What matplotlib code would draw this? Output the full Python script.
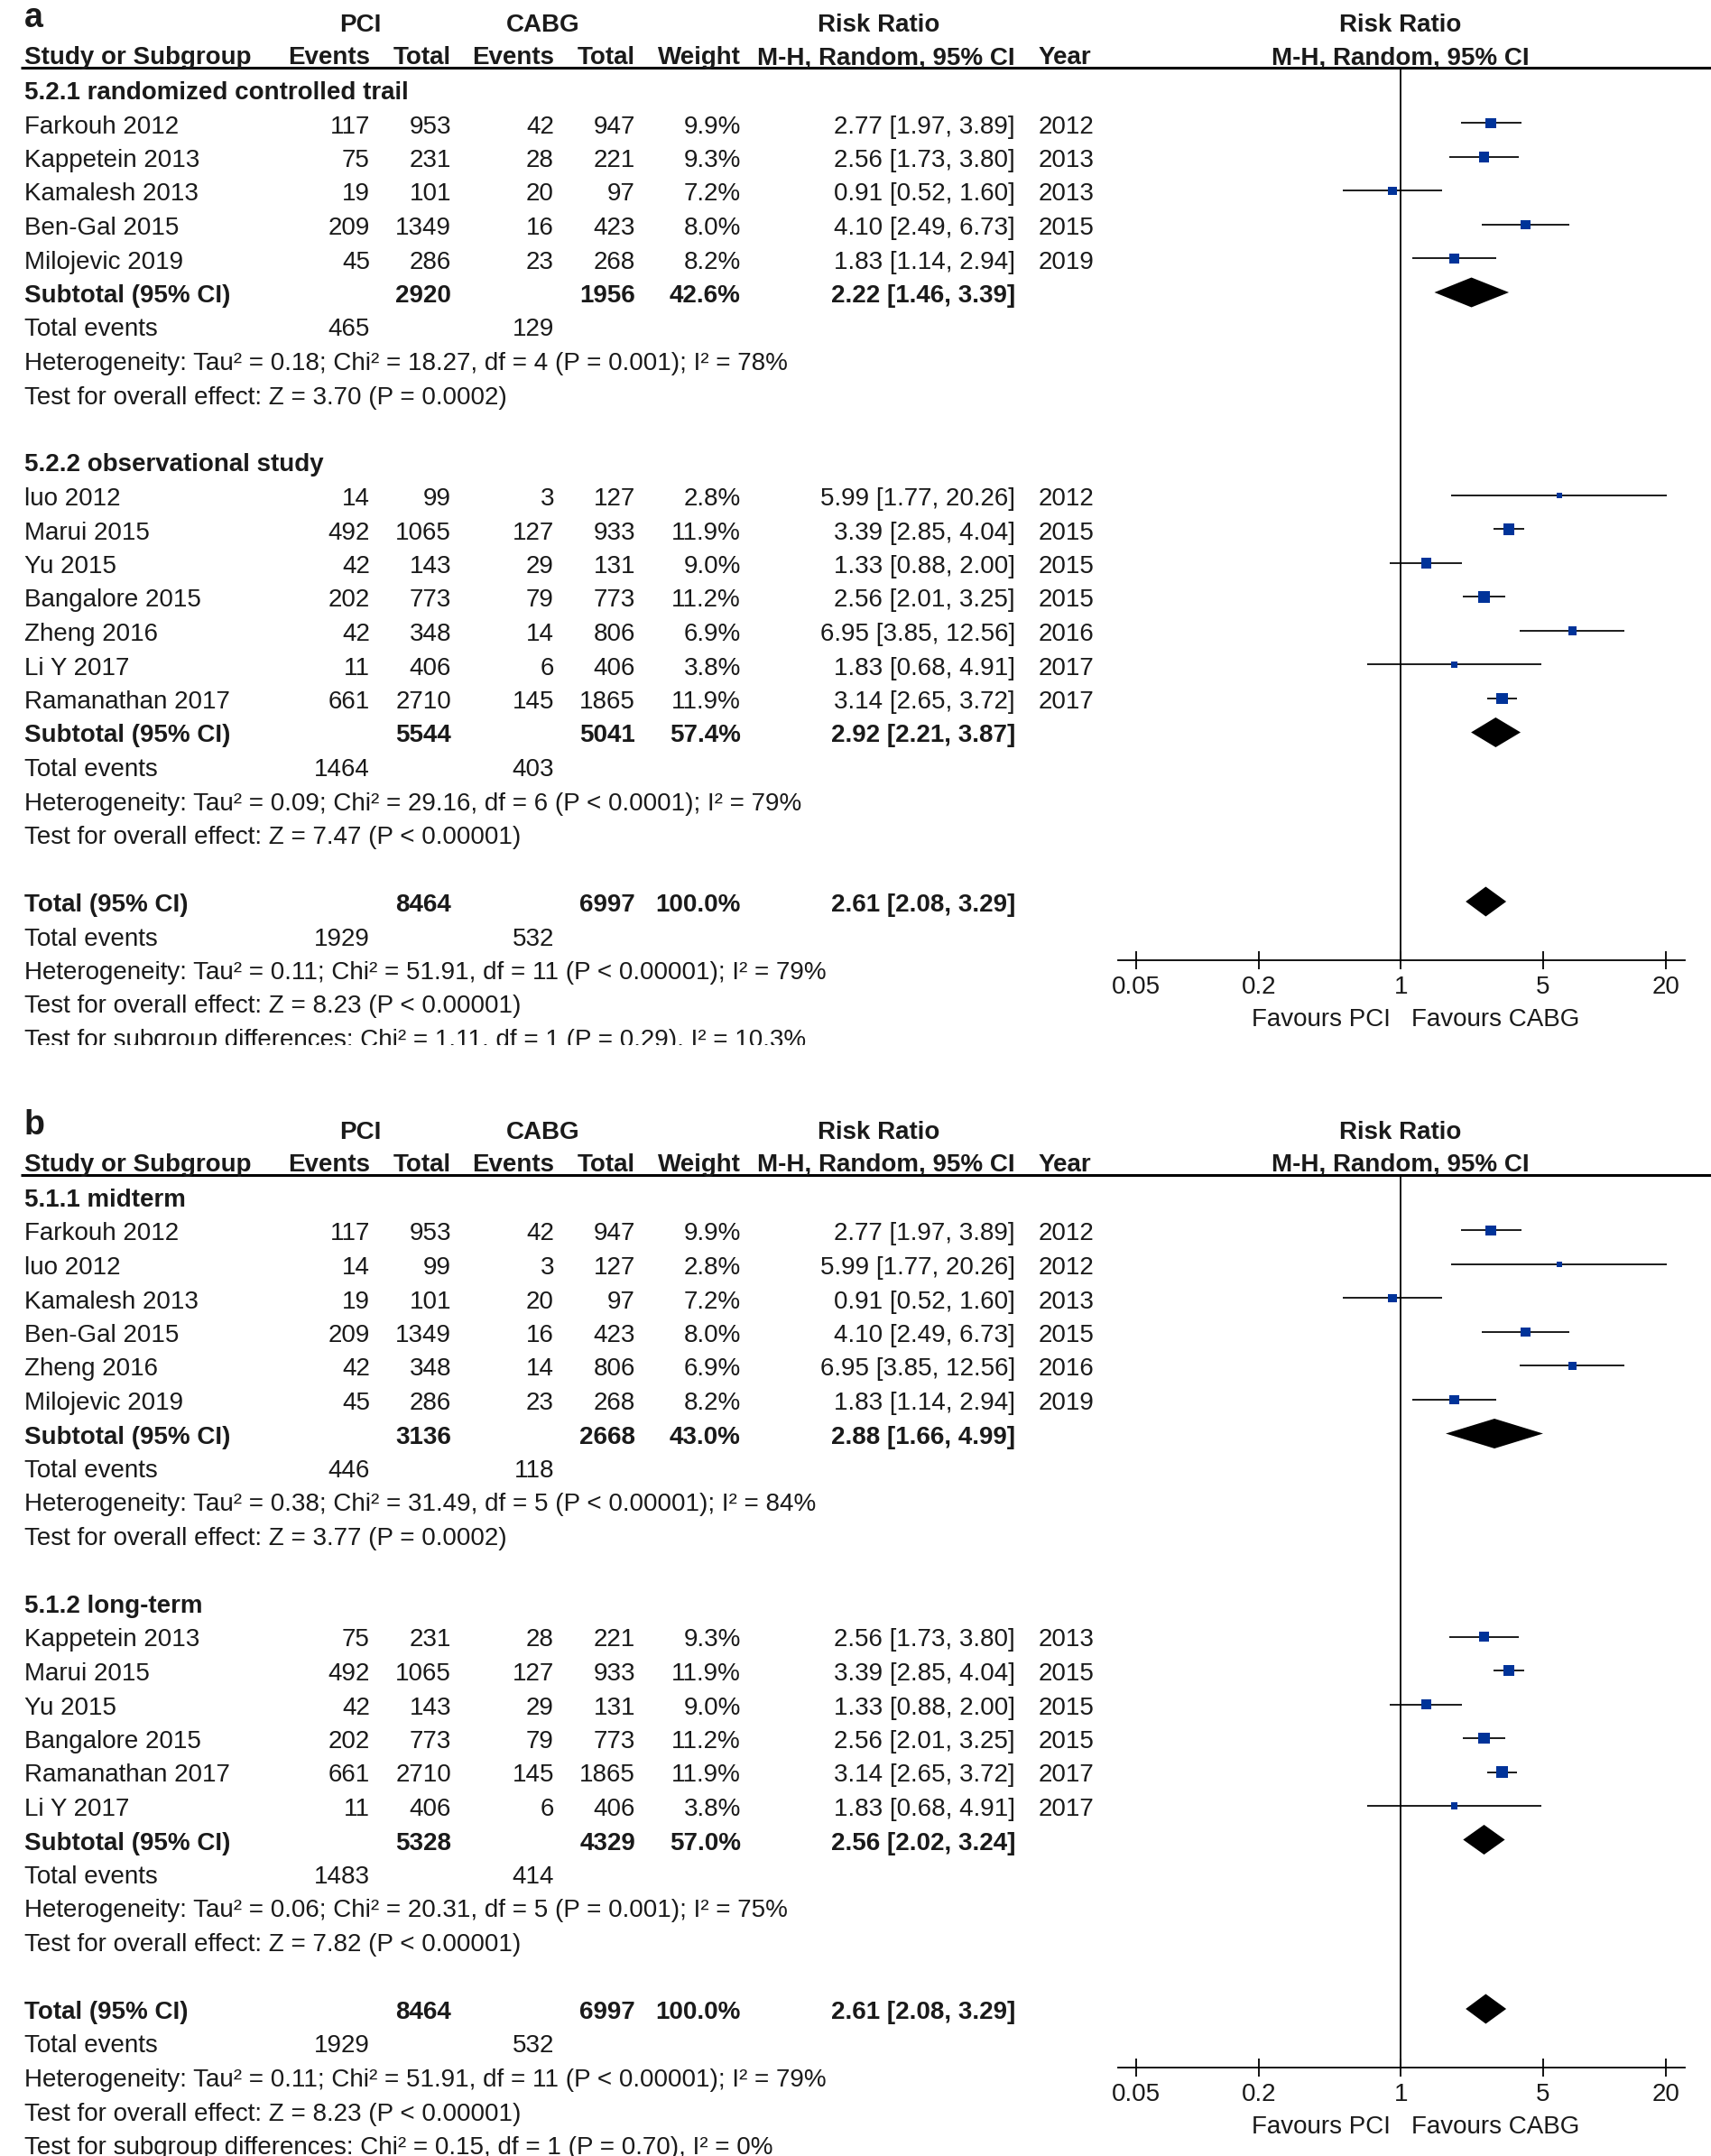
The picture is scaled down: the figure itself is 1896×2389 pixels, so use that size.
import numpy as np
import matplotlib
matplotlib.use("Agg")
import matplotlib.pyplot as plt
from matplotlib import font_manager as fm
from matplotlib.ticker import NullLocator
from matplotlib.patches import Rectangle

names = {f.name for f in fm.fontManager.ttflist}
FONT = "Liberation Sans Narrow" if "Liberation Sans Narrow" in names else "Liberation Sans"
plt.rcParams["font.family"] = [FONT, "DejaVu Sans"]

INK, BLUE = "#1a1a1a", "#003399"
W, H = 1896, 2389
FS = 20

# ── study data ────────────────────────────────────────────────────────────────
studies     = ["Farkouh 2012", "Kappetein 2013", "Kamalesh 2013", "Ben-Gal 2015",
               "Milojevic 2019", "luo 2012", "Marui 2015", "Yu 2015", "Bangalore 2015",
               "Zheng 2016", "Li Y 2017", "Ramanathan 2017"]
pci_events  = [117, 75, 19, 209, 45, 14, 492, 42, 202, 42, 11, 661]
pci_total   = [953, 231, 101, 1349, 286, 99, 1065, 143, 773, 348, 406, 2710]
cabg_events = [42, 28, 20, 16, 23, 3, 127, 29, 79, 14, 6, 145]
cabg_total  = [947, 221, 97, 423, 268, 127, 933, 131, 773, 806, 406, 1865]
weights     = [9.9, 9.3, 7.2, 8.0, 8.2, 2.8, 11.9, 9.0, 11.2, 6.9, 3.8, 11.9]
rr          = [2.77, 2.56, 0.91, 4.10, 1.83, 5.99, 3.39, 1.33, 2.56, 6.95, 1.83, 3.14]
rr_lo       = [1.97, 1.73, 0.52, 2.49, 1.14, 1.77, 2.85, 0.88, 2.01, 3.85, 0.68, 2.65]
rr_hi       = [3.89, 3.80, 1.60, 6.73, 2.94, 20.26, 4.04, 2.00, 3.25, 12.56, 4.91, 3.72]
years       = [2012, 2013, 2013, 2015, 2019, 2012, 2015, 2015, 2015, 2016, 2017, 2017]

# ── panel a: by study design ──────────────────────────────────────────────────
a_groups      = ["5.2.1 randomized controlled trail", "5.2.2 observational study"]
a_members     = [[0, 1, 2, 3, 4], [5, 6, 7, 8, 9, 10, 11]]
a_sub_n_pci   = [2920, 5544]
a_sub_n_cabg  = [1956, 5041]
a_sub_w       = [42.6, 57.4]
a_sub_rr      = [2.22, 2.92]
a_sub_lo      = [1.46, 2.21]
a_sub_hi      = [3.39, 3.87]
a_sub_ev_pci  = [465, 1464]
a_sub_ev_cabg = [129, 403]
a_het = ["Heterogeneity: Tau² = 0.18; Chi² = 18.27, df = 4 (P = 0.001); I² = 78%",
         "Heterogeneity: Tau² = 0.09; Chi² = 29.16, df = 6 (P < 0.0001); I² = 79%"]
a_z   = ["Test for overall effect: Z = 3.70 (P = 0.0002)",
         "Test for overall effect: Z = 7.47 (P < 0.00001)"]
a_subgroup = "Test for subgroup differences: Chi² = 1.11, df = 1 (P = 0.29), I² = 10.3%"

# ── panel b: by follow-up ─────────────────────────────────────────────────────
b_groups      = ["5.1.1 midterm", "5.1.2 long-term"]
b_members     = [[0, 5, 2, 3, 9, 4], [1, 6, 7, 8, 11, 10]]
b_sub_n_pci   = [3136, 5328]
b_sub_n_cabg  = [2668, 4329]
b_sub_w       = [43.0, 57.0]
b_sub_rr      = [2.88, 2.56]
b_sub_lo      = [1.66, 2.02]
b_sub_hi      = [4.99, 3.24]
b_sub_ev_pci  = [446, 1483]
b_sub_ev_cabg = [118, 414]
b_het = ["Heterogeneity: Tau² = 0.38; Chi² = 31.49, df = 5 (P < 0.00001); I² = 84%",
         "Heterogeneity: Tau² = 0.06; Chi² = 20.31, df = 5 (P = 0.001); I² = 75%"]
b_z   = ["Test for overall effect: Z = 3.77 (P = 0.0002)",
         "Test for overall effect: Z = 7.82 (P < 0.00001)"]
b_subgroup = "Test for subgroup differences: Chi² = 0.15, df = 1 (P = 0.70), I² = 0%"

# ── overall ───────────────────────────────────────────────────────────────────
tot_n_pci, tot_n_cabg = 8464, 6997
tot_rr, tot_lo, tot_hi = 2.61, 2.08, 3.29
tot_ev_pci, tot_ev_cabg = 1929, 532
tot_het = "Heterogeneity: Tau² = 0.11; Chi² = 51.91, df = 11 (P < 0.00001); I² = 79%"
tot_z   = "Test for overall effect: Z = 8.23 (P < 0.00001)"

ticks = [0.05, 0.2, 1, 5, 20]
tick_labels = ["0.05", "0.2", "1", "5", "20"]

# ── layout (figure pixels) ────────────────────────────────────────────────────
ROW0, ROWH, DY = 99, 37.5, 4
LINE_Y, AXIS_Y = 75, 1064
X_LABEL, X_EVP, X_TOTP, X_EVC, X_TOTC, X_W, X_RR, X_YR = 27, 410, 500, 614, 704, 821, 1125, 1151
F_LEFT, F_RIGHT = 1239, 1867
XLIM = (0.0408, 24.8)
DIAM = 0.44

fig = plt.figure(figsize=(W / 100, H / 100), dpi=100, facecolor="white")
tx = fig.add_axes([0, 0, 1, 1])
tx.set_xlim(0, W)
tx.set_ylim(H, 0)
tx.axis("off")


def put(x, y, s, ha="left", bold=False, size=FS):
    tx.text(x, y + DY, s, ha=ha, va="center", fontsize=size, color=INK,
            fontweight="bold" if bold else "normal")


def rr_txt(v, lo, hi):
    return f"{v:.2f} [{lo:.2f}, {hi:.2f}]"


def diamond(ax, r, v, lo, hi):
    ax.fill([lo, v, hi, v], [r, r - DIAM, r, r + DIAM], color="black", lw=0)


def draw_panel(letter, yoff, groups, members, sub_n_pci, sub_n_cabg, sub_w, sub_rr,
               sub_lo, sub_hi, sub_ev_pci, sub_ev_cabg, het, zt, subgroup):
    Y = lambda r: yoff + ROW0 + r * ROWH

    # header
    put(X_LABEL, yoff + 16, letter, bold=True, size=27)
    h1, h2 = yoff + 24, yoff + 60
    put(399, h1, "PCI", ha="center", bold=True)
    put(602, h1, "CABG", ha="center", bold=True)
    put(974, h1, "Risk Ratio", ha="center", bold=True)
    put(1552, h1, "Risk Ratio", ha="center", bold=True)
    put(X_LABEL, h2, "Study or Subgroup", bold=True)
    put(X_EVP, h2, "Events", ha="right", bold=True)
    put(X_TOTP, h2, "Total", ha="right", bold=True)
    put(X_EVC, h2, "Events", ha="right", bold=True)
    put(X_TOTC, h2, "Total", ha="right", bold=True)
    put(X_W, h2, "Weight", ha="right", bold=True)
    put(X_RR, h2, "M-H, Random, 95% CI", ha="right", bold=True)
    put(X_YR, h2, "Year", bold=True)
    put(1552, h2, "M-H, Random, 95% CI", ha="center", bold=True)
    tx.plot([23, W], [yoff + LINE_Y, yoff + LINE_Y], color="black", lw=2.2,
            solid_capstyle="butt")

    # forest axes
    ax = fig.add_axes([F_LEFT / W, 1 - (yoff + AXIS_Y) / H,
                       (F_RIGHT - F_LEFT) / W, (AXIS_Y - LINE_Y) / H])
    ax.set_xscale("log")
    ax.set_xlim(*XLIM)
    ax.set_ylim((AXIS_Y - ROW0) / ROWH, (LINE_Y - ROW0) / ROWH)
    ax.patch.set_alpha(0)
    for s in ["top", "left", "right"]:
        ax.spines[s].set_visible(False)
    ax.spines["bottom"].set_linewidth(1.3)
    ax.set_yticks([])
    ax.set_xticks(ticks)
    ax.set_xticklabels(tick_labels, fontsize=FS, color=INK)
    ax.xaxis.set_minor_locator(NullLocator())
    ax.tick_params(axis="x", direction="inout", length=14, width=1.3, pad=5)
    ax.axvline(1, color="black", lw=1.3)

    r = 0
    for g in range(len(groups)):
        put(X_LABEL, Y(r), groups[g], bold=True)
        r += 1
        idx = members[g]
        rows = np.arange(r, r + len(idx))
        for k, i in zip(rows, idx):
            y = Y(k)
            put(X_LABEL, y, studies[i])
            put(X_EVP, y, str(pci_events[i]), ha="right")
            put(X_TOTP, y, str(pci_total[i]), ha="right")
            put(X_EVC, y, str(cabg_events[i]), ha="right")
            put(X_TOTC, y, str(cabg_total[i]), ha="right")
            put(X_W, y, f"{weights[i]:.1f}%", ha="right")
            put(X_RR, y, rr_txt(rr[i], rr_lo[i], rr_hi[i]), ha="right")
            put(X_YR, y, str(years[i]))
        ax.hlines(rows, [rr_lo[i] for i in idx], [rr_hi[i] for i in idx],
                  color="black", lw=1.25)
        ax.scatter([rr[i] for i in idx], rows, marker="s", color=BLUE,
                   s=[7.0 * weights[i] for i in idx], zorder=3, linewidths=0)
        r += len(idx)
        y = Y(r)
        put(X_LABEL, y, "Subtotal (95% CI)", bold=True)
        put(X_TOTP, y, str(sub_n_pci[g]), ha="right", bold=True)
        put(X_TOTC, y, str(sub_n_cabg[g]), ha="right", bold=True)
        put(X_W, y, f"{sub_w[g]:.1f}%", ha="right", bold=True)
        put(X_RR, y, rr_txt(sub_rr[g], sub_lo[g], sub_hi[g]), ha="right", bold=True)
        diamond(ax, r, sub_rr[g], sub_lo[g], sub_hi[g])
        r += 1
        put(X_LABEL, Y(r), "Total events")
        put(X_EVP, Y(r), str(sub_ev_pci[g]), ha="right")
        put(X_EVC, Y(r), str(sub_ev_cabg[g]), ha="right")
        put(X_LABEL, Y(r + 1), het[g])
        put(X_LABEL, Y(r + 2), zt[g])
        r += 4

    y = Y(r)
    put(X_LABEL, y, "Total (95% CI)", bold=True)
    put(X_TOTP, y, str(tot_n_pci), ha="right", bold=True)
    put(X_TOTC, y, str(tot_n_cabg), ha="right", bold=True)
    put(X_W, y, "100.0%", ha="right", bold=True)
    put(X_RR, y, rr_txt(tot_rr, tot_lo, tot_hi), ha="right", bold=True)
    diamond(ax, r, tot_rr, tot_lo, tot_hi)
    put(X_LABEL, Y(r + 1), "Total events")
    put(X_EVP, Y(r + 1), str(tot_ev_pci), ha="right")
    put(X_EVC, Y(r + 1), str(tot_ev_cabg), ha="right")
    put(X_LABEL, Y(r + 2), tot_het)
    put(X_LABEL, Y(r + 3), tot_z)
    put(X_LABEL, Y(r + 4), subgroup)

    put(1541, yoff + 1126, "Favours PCI", ha="right")
    put(1564, yoff + 1126, "Favours CABG")


draw_panel("a", 0, a_groups, a_members, a_sub_n_pci, a_sub_n_cabg, a_sub_w, a_sub_rr,
           a_sub_lo, a_sub_hi, a_sub_ev_pci, a_sub_ev_cabg, a_het, a_z, a_subgroup)
draw_panel("b", 1227, b_groups, b_members, b_sub_n_pci, b_sub_n_cabg, b_sub_w, b_sub_rr,
           b_sub_lo, b_sub_hi, b_sub_ev_pci, b_sub_ev_cabg, b_het, b_z, b_subgroup)

# the source figure crops the last line of panel a just under its baseline
tx.add_patch(Rectangle((0, 1158), 1230, 40, facecolor="white", edgecolor="none", zorder=5))

fig.savefig("out.png", dpi=100, facecolor="white")
